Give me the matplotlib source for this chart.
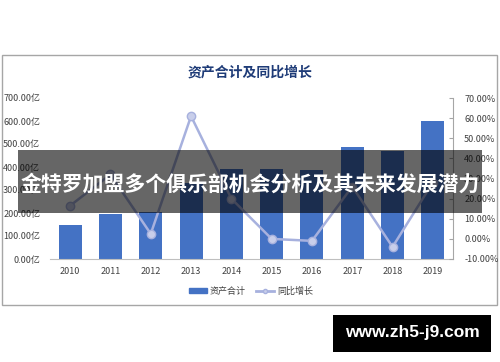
"""
资产合计及同比增长 chart with overlay banner and watermark.
"""

import matplotlib
matplotlib.use("Agg")
import matplotlib.pyplot as plt
from matplotlib.patches import Rectangle
from matplotlib.lines import Line2D

plt.rcParams['font.family'] = ['Noto Sans CJK SC', 'DejaVu Sans']

years = ['2010', '2011', '2012', '2013', '2014', '2015', '2016', '2017', '2018', '2019']
assets = [148, 196, 204, 330, 390, 390, 387, 487, 470, 600]          # 亿
growth = [16.5, 32.0, 2.5, 61.0, 20.0, 0.0, -1.0, 26.0, -4.0, 28.0]  # %
left_ticks = [0, 100, 200, 300, 400, 500, 600, 700]
right_ticks = [-10, 0, 10, 20, 30, 40, 50, 60, 70]

title = "资产合计及同比增长"
banner = "金特罗加盟多个俱乐部机会分析及其未来发展潜力"
watermark = "www.zh5-j9.com"

W, H = 500, 362
fig = plt.figure(figsize=(W / 100, H / 100), dpi=100)
fig.patch.set_facecolor('white')

def fx(px):
    return px / W

def fy(py):
    return 1 - py / H

# chart frame
fig.patches.append(Rectangle((fx(1.5), fy(305)), fx(497) - fx(1.5), fy(55) - fy(305),
                             transform=fig.transFigure, fill=False,
                             edgecolor='#A6A6A6', linewidth=1.0, zorder=-1))

ax = fig.add_axes([fx(50), fy(259), fx(453) - fx(50), fy(98) - fy(259)])
ax.set_facecolor('none')
x = list(range(len(years)))
ax.bar(x, assets, width=0.57, color='#4472C4', zorder=2)
ax.set_xlim(-0.5, len(years) - 0.5)
ax.set_ylim(0, 700)
ax.set_yticks(left_ticks)
ax.set_yticklabels([f"{v:.2f}亿" for v in left_ticks])
ax.set_xticks(x)
ax.set_xticklabels(years)
ax.tick_params(axis='y', length=0, pad=7, labelsize=6.5, labelcolor='#404040')
ax.tick_params(axis='x', length=0, pad=6, labelsize=6.5, labelcolor='#404040')
for s in ['top', 'left', 'right']:
    ax.spines[s].set_visible(False)
ax.spines['bottom'].set_color('#BFBFBF')

ax2 = ax.twinx()
ax2.plot(x, growth, color='#A7B1DE', linewidth=1.8, marker='o', markersize=6,
         markerfacecolor='#C8CEEA', markeredgecolor='#A7B1DE', zorder=3)
ax2.set_ylim(-10, 70)
ax2.set_yticks(right_ticks)
ax2.set_yticklabels([f"{v:.2f}%" for v in right_ticks])
ax2.tick_params(axis='y', direction='in', length=3, color='#A6A6A6', pad=8,
                labelsize=6.5, labelcolor='#404040')
for s in ['top', 'left', 'bottom']:
    ax2.spines[s].set_visible(False)
ax2.spines['right'].set_color('#A6A6A6')

fig.text(fx(250), fy(73), title, ha='center', va='center', fontsize=10,
         fontweight='bold', color='#1F3C78')

# legend
handles = [Rectangle((0, 0), 1, 1, color='#4472C4'),
           Line2D([0], [0], color='#A7B1DE', linewidth=2, marker='o', markersize=3,
                  markerfacecolor='#C8CEEA')]
fig.legend(handles, ['资产合计', '同比增长'], loc='center', bbox_to_anchor=(fx(251), fy(291)),
           ncol=2, frameon=False, fontsize=6.5, handlelength=2.0, handleheight=0.5,
           columnspacing=1.2, handletextpad=0.3, labelcolor='#404040')

# banner overlay
fig.patches.append(Rectangle((fx(18), fy(213)), fx(482) - fx(18), fy(150) - fy(213),
                             transform=fig.transFigure, facecolor='black', alpha=0.6,
                             edgecolor='none', zorder=10))
fig.text(fx(250), fy(184), banner, ha='center', va='center', fontsize=15,
         fontweight='bold', color='white', zorder=11)

# watermark
fig.patches.append(Rectangle((fx(333), fy(352)), fx(491) - fx(333), fy(315) - fy(352),
                             transform=fig.transFigure, facecolor='black',
                             edgecolor='none', zorder=10))
fig.text(fx(412), fy(333), watermark, ha='center', va='center', fontsize=12.5,
         fontweight='bold', color='white', zorder=11,
         family=['Liberation Sans', 'DejaVu Sans'])

fig.savefig('out.png', dpi=100)
